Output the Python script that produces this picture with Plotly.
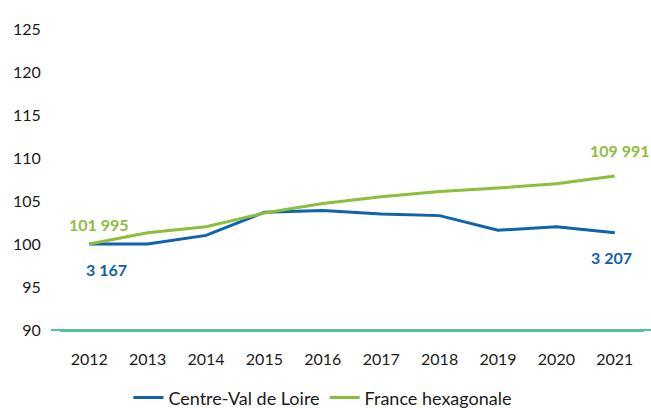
import plotly.graph_objects as go

years = ["2012", "2013", "2014", "2015", "2016", "2017", "2018", "2019", "2020", "2021"]
centre = [100.0, 100.0, 101.0, 103.7, 103.9, 103.5, 103.3, 101.6, 102.0, 101.3]
france = [100.0, 101.3, 102.0, 103.6, 104.7, 105.5, 106.1, 106.5, 107.0, 107.9]
centre_labels = ["3 167", "3 207"]
france_labels = ["101 995", "109 991"]
y_ticks = [90, 95, 100, 105, 110, 115, 120, 125]

BLUE = "#0F62AC"
GREEN = "#8CBD3B"
MINT = "#4FC49A"
FONT = "Lato"

fig = go.Figure()
fig.add_trace(go.Scatter(x=years, y=centre, mode="lines", name="Centre-Val de Loire",
                         line=dict(color=BLUE, width=3)))
fig.add_trace(go.Scatter(x=years, y=france, mode="lines", name="France hexagonale",
                         line=dict(color=GREEN, width=3)))

first, last = 0, len(years) - 1
anns = [
    (first, france[first], france_labels[0], GREEN, 10, 20),
    (last, france[last], france_labels[1], GREEN, 5, 26),
    (first, centre[first], centre_labels[0], BLUE, 17, -25),
    (last, centre[last], centre_labels[1], BLUE, -3, -25),
]
for x, y, t, c, dx, dy in anns:
    fig.add_annotation(x=x, y=y, xref="x", yref="y", text="<b>" + t + "</b>",
                       showarrow=False, xshift=dx, yshift=dy,
                       font=dict(family=FONT, size=16, color=c))

# baseline at the bottom of the value axis, extended slightly past the plot area
fig.add_shape(type="line", xref="paper", yref="paper", x0=-0.0154, x1=1.012, y0=0, y1=0,
              line=dict(color=MINT, width=2), layer="above")

fig.update_layout(
    width=651, height=408,
    margin=dict(l=60, r=7, t=29, b=78),
    paper_bgcolor="white", plot_bgcolor="white",
    font=dict(family=FONT, size=16, color="#1a1a1a"),
    showlegend=True,
    legend=dict(orientation="h", xref="container", yref="container", x=0.496, y=0.025,
                xanchor="center", yanchor="middle", font=dict(size=18),
                itemwidth=30, tracegroupgap=0),
    xaxis=dict(type="category", range=[-0.5, 9.5], showgrid=False,
               showline=True, linecolor=MINT, linewidth=2,
               zeroline=False, ticks="outside", ticklen=14, tickcolor="rgba(0,0,0,0)"),
    yaxis=dict(range=[90, 125], tickvals=y_ticks, showgrid=False, showline=False,
               zeroline=False, ticks="outside", ticklen=15, tickcolor="rgba(0,0,0,0)"),
)

fig.write_html("out.html", config={"displayModeBar": False},
               post_script="document.body.style.margin='0';")
